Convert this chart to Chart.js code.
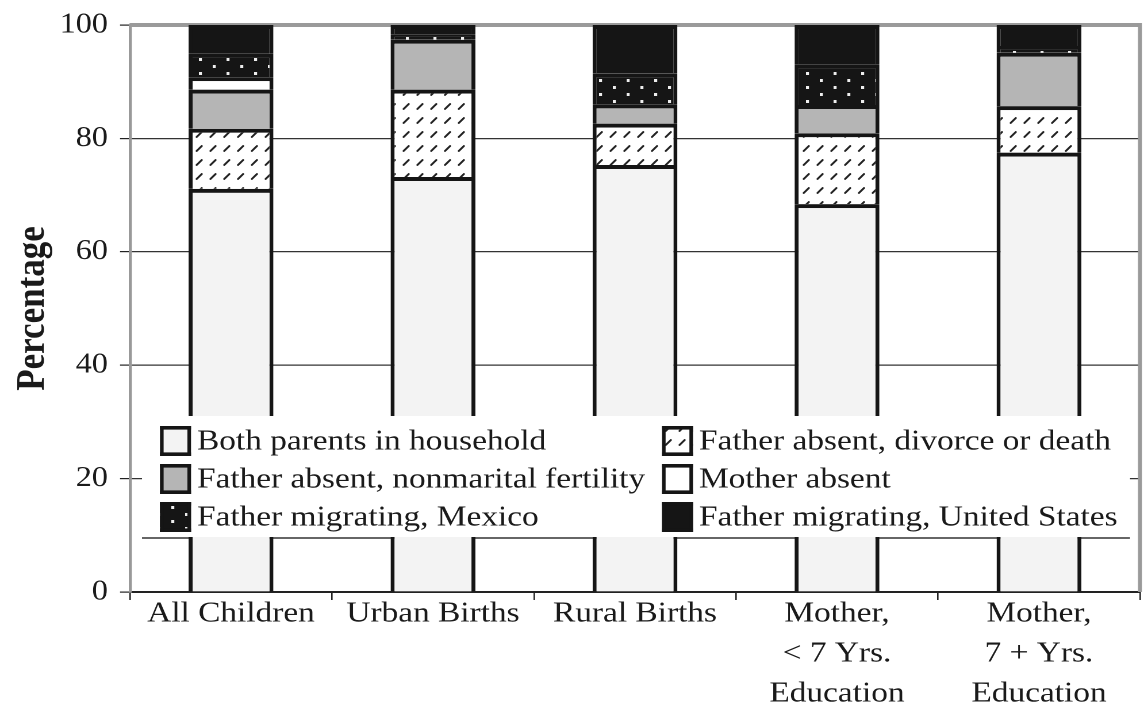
<!DOCTYPE html>
<html>
<head>
<meta charset="utf-8">
<script src="https://cdn.jsdelivr.net/npm/chart.js@4.4.1/dist/chart.umd.min.js"></script>
<style>
  html, body { margin: 0; padding: 0; background: #fff; overflow: hidden; }
  #wrap { width: 1144px; height: 711px; overflow: hidden; }
  /* the printed figure is a little wider than tall; stretch it the same way */
  #chart { transform-origin: 0 0; }
</style>
</head>
<body>
<div id="wrap"><canvas id="chart" width="995" height="711"></canvas></div>
<script>
// categories and series (percent of children)
const categories = ['All Children', 'Urban Births', 'Rural Births', ['Mother,', '< 7 Yrs.', 'Education'], ['Mother,', '7 + Yrs.', 'Education']];
const seriesNames = ['Both parents in household', 'Father absent, divorce or death', 'Father absent, nonmarital fertility', 'Mother absent', 'Father migrating, Mexico', 'Father migrating, United States'];
const bothParents  = [71.1, 73.2, 75.3, 68.4, 77.5];
const divorceDeath = [10.6, 15.4, 7.3, 12.5, 8.2];
const nonmarital   = [6.9, 8.8, 3.4, 5.0, 9.4];
const motherAbsent = [2.2, 0, 0, 0, 0];
const migMexico    = [4.1, 1.0, 5.5, 7.2, 1.2];
const migUS        = [5.1, 1.6, 8.5, 6.9, 3.7];
const yTicks = [0, 20, 40, 60, 80, 100];

const canvas = document.getElementById('chart');
const SX = 1144 / canvas.width;          // horizontal stretch of the page
canvas.style.transform = 'scaleX(' + SX + ')';
const px = x => x / SX;                  // page x -> canvas x

const mainCtx = canvas.getContext('2d');
const INK = '#151515';
const SERIF = '"Liberation Serif", "Times New Roman", serif';

function makePattern(w, h, draw) {
    const c = document.createElement('canvas');
    c.width = w * 2; c.height = h * 2;
    const g = c.getContext('2d');
    g.scale(2, 2);
    draw(g);
    const p = mainCtx.createPattern(c, 'repeat');
    p.setTransform(new DOMMatrix().scale(0.5, 0.5));
    return p;
}

// little slanted dashes on white
const hatch = makePattern(12, 14, g => {
    g.fillStyle = '#fff'; g.fillRect(0, 0, 12, 14);
    g.strokeStyle = '#222'; g.lineWidth = 1.8; g.lineCap = 'round';
    g.beginPath(); g.moveTo(3, 11); g.lineTo(7.5, 6); g.stroke();
});
// white dots on black, staggered
const dots = makePattern(24, 14, g => {
    g.fillStyle = INK; g.fillRect(0, 0, 24, 14);
    g.fillStyle = '#eee';
    g.fillRect(5, 2, 2.6, 3);
    g.fillRect(17, 9, 2.6, 3);
});

const fills = ['#f3f3f3', hatch, '#b5b5b5', '#ffffff', dots, INK];
const values = [bothParents, divorceDeath, nonmarital, motherAbsent, migMexico, migUS];

// gray frame on top and right of the plot
const framePlugin = {
    id: 'frame',
    beforeDatasetsDraw(chart) {
        const { ctx, chartArea: a } = chart;
        ctx.save();
        ctx.strokeStyle = '#9a9a9a';
        ctx.lineWidth = 4;
        ctx.beginPath();
        ctx.moveTo(a.left, a.top);
        ctx.lineTo(a.right, a.top);
        ctx.stroke();
        ctx.lineWidth = px(4);
        ctx.beginPath();
        ctx.moveTo(a.right, a.top - 2);
        ctx.lineTo(a.right, a.bottom);
        ctx.stroke();
        ctx.restore();
    }
};

// legend sits inside the plot, over the bars
const legendBox = {
    id: 'legendBox',
    beforeDatasetsDraw(chart, args, o) {
        const { ctx } = chart;
        ctx.save();
        ctx.strokeStyle = '#333'; ctx.lineWidth = 1.5;
        ctx.beginPath(); ctx.moveTo(o.left, o.bottom + 1); ctx.lineTo(o.right, o.bottom + 1); ctx.stroke();
        ctx.restore();
    },
    afterDatasetsDraw(chart, args, o) {
        const { ctx } = chart;
        ctx.save();
        ctx.fillStyle = '#fff';
        ctx.fillRect(o.left, o.top, o.right - o.left, o.bottom - o.top);
        ctx.font = o.fontSize + 'px ' + SERIF;
        ctx.textBaseline = 'middle';
        const bw = px(31), bh = 30, lwx = px(3.6), lwy = 3.6;
        chart.data.datasets.forEach((ds, i) => {
            const x = o.columns[i % 2];
            const y = o.top + o.firstRow + Math.floor(i / 2) * o.rowGap;
            ctx.fillStyle = ds.backgroundColor;
            ctx.fillRect(x, y - bh / 2, bw, bh);
            ctx.fillStyle = INK;
            ctx.fillRect(x, y - bh / 2, bw, lwy);
            ctx.fillRect(x, y + bh / 2 - lwy, bw, lwy);
            ctx.fillRect(x, y - bh / 2, lwx, bh);
            ctx.fillRect(x + bw - lwx, y - bh / 2, lwx, bh);
            ctx.fillStyle = '#1a1a1a';
            ctx.fillText(ds.label, x + o.textGap, y + 1);
        });
        ctx.restore();
    }
};

new Chart(mainCtx, {
    type: 'bar',
    data: {
        labels: categories,
        datasets: seriesNames.map((name, i) => ({
            label: name,
            data: values[i],
            backgroundColor: fills[i],
            borderColor: INK,
            borderWidth: { top: 4, left: px(4), right: px(4), bottom: 0 },
            borderSkipped: 'start',
            barPercentage: 0.42,
            categoryPercentage: 1
        }))
    },
    options: {
        responsive: false,
        animation: false,
        devicePixelRatio: 2,
        layout: { padding: { top: 25, right: canvas.width - px(1140), left: 0, bottom: 0 } },
        plugins: {
            legend: { display: false },
            tooltip: { enabled: false },
            legendBox: {
                left: px(142), right: px(1130), top: 416, bottom: 537,
                firstRow: 25, rowGap: 38, columns: [px(160), px(662)], textGap: px(37), fontSize: 29
            }
        },
        scales: {
            x: {
                stacked: true,
                afterFit: s => { s.height = 119; },
                grid: { drawOnChartArea: false, tickLength: 8, color: '#222', lineWidth: px(1.5) },
                border: { color: '#222', width: 2 },
                ticks: { color: '#1a1a1a', padding: -6, maxRotation: 0, autoSkip: false, font: { family: SERIF, size: 29, lineHeight: 1.38 } }
            },
            y: {
                stacked: true,
                min: 0,
                max: 100,
                afterFit: s => { s.width = px(130); s.paddingTop = 0; s.paddingBottom = 0; },
                afterBuildTicks: s => { s.ticks = yTicks.map(v => ({ value: v })); },
                grid: {
                    color: c => (c.tick && (c.tick.value === 0 || c.tick.value === 100)) ? 'rgba(0,0,0,0)' : '#333',
                    tickColor: '#222',
                    tickLength: px(10),
                    lineWidth: 1.2
                },
                border: { color: '#999', width: px(3) },
                ticks: { color: '#1a1a1a', padding: px(12), font: { family: SERIF, size: 28 } },
                title: { display: true, text: 'Percentage', color: '#1a1a1a', padding: { top: 8, bottom: 0 }, font: { family: SERIF, size: 35, weight: 'bold' } }
            }
        }
    },
    plugins: [framePlugin, legendBox]
});
</script>
</body>
</html>
